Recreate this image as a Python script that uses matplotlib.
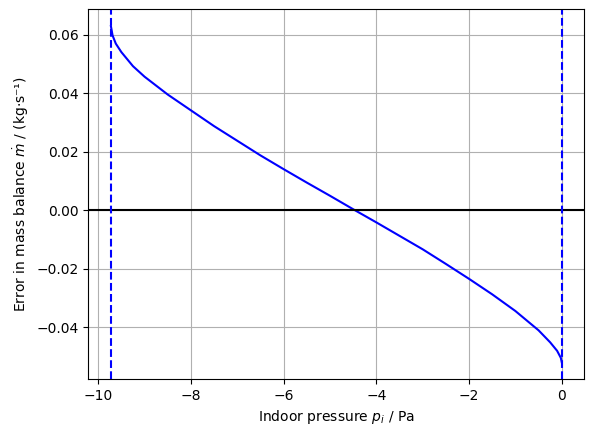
import numpy as np
import matplotlib.pyplot as plt

# values
p_i = [-9.726, -9.69, -9.62, -9.5, -9.25, -9.0, -8.5, -8.0, -7.5, -7.0,
       -6.5, -6.0, -5.5, -5.0, -4.5, -4.0, -3.5, -3.0, -2.5, -2.0,
       -1.5, -1.0, -0.5, -0.25, -0.1, -0.02, 0.0]
m_err = [0.0630, 0.0598, 0.0570, 0.0541, 0.0493, 0.0457, 0.0396, 0.0342, 0.0288, 0.0238,
         0.0188, 0.0141, 0.0095, 0.0050, 0.0004, -0.0041, -0.0087, -0.0133, -0.0183, -0.0234,
         -0.0287, -0.0344, -0.0410, -0.0451, -0.0480, -0.0504, -0.0519]

p_min = -9.73  # lower bound of indoor pressure
p_max = 0.0

fig = plt.figure(figsize=(5.93, 4.36), dpi=100)
ax = fig.add_axes([0.149, 0.1307, 0.8363, 0.848])

ax.plot(p_i, m_err, 'b')
ax.axhline(0, color='k')
ax.axvline(p_min, color='b', linestyle='--')
ax.axvline(p_max, color='b', linestyle='--')
ax.grid(True)
ax.set_xlabel('Indoor pressure $p_i$ / Pa')
ax.set_ylabel('Error in mass balance $\\dot{m}$ / (kg·s⁻¹)')

fig.savefig('out.png', dpi=100)
